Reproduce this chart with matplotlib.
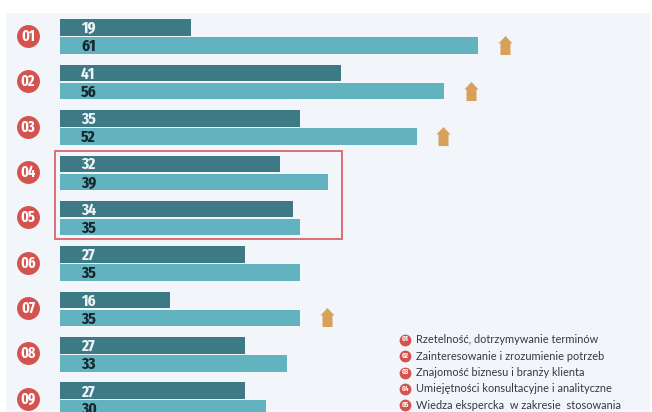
import matplotlib
matplotlib.use("Agg")
import matplotlib.pyplot as plt
from matplotlib.patches import Rectangle
from matplotlib.path import Path

# ---- data ----
labels = ["01", "02", "03", "04", "05", "06", "07", "08", "09"]
dark_vals = [19, 41, 35, 32, 34, 27, 16, 27, 27]
light_vals = [61, 56, 52, 39, 35, 35, 35, 33, 30]
arrow_groups = ["01", "02", "03", "07"]
legend_nums = ["01", "02", "03", "04", "05"]
legend_texts = [
    "Rzetelność, dotrzymywanie terminów",
    "Zainteresowanie i zrozumienie potrzeb",
    "Znajomość biznesu i branży klienta",
    "Umiejętności konsultacyjne i analityczne",
    "Wiedza ekspercka  w zakresie  stosowania",
]

# ---- style ----
W, H = 652, 412
DARK = "#3e7a86"
LIGHT = "#62b3bf"
RED = "#d5534f"
ARROW = "#d9a05c"
BG = "#f2f5f9"
NUMFONT = ["Fira Sans Extra Condensed", "DejaVu Sans"]
LEGFONT = ["Lato", "DejaVu Sans"]

X0, XS = 60.5, 6.85          # pixel of value 0, pixels per unit
Y0, YS = 36.7, 45.37         # pixel of group 0 centre, pixels per group

def px_x(p):
    return (p - X0) / XS

def px_y(p):
    return (p - Y0) / YS

fig = plt.figure(figsize=(W / 100, H / 100), dpi=100)
fig.patch.set_facecolor("white")
ax = fig.add_axes([0, 0, 1, 1])
ax.set_facecolor("none")
ax.set_xlim(px_x(0), px_x(W))
ax.set_ylim(px_y(H), px_y(0))
ax.axis("off")

# background panel
ax.add_patch(Rectangle((6 / W, 0), (650 - 6) / W, (H - 13) / H,
                       transform=fig.transFigure, facecolor=BG,
                       edgecolor="none", zorder=0))

idx = list(range(len(labels)))
off = 9.0 / YS
bh = 16.5 / YS
ax.barh([i - off for i in idx], dark_vals, height=bh, color=DARK, zorder=2)
ax.barh([i + off for i in idx], light_vals, height=bh, color=LIGHT, zorder=2)

tx = px_x(81)
dy = 1.0 / YS
for i, (d, l) in enumerate(zip(dark_vals, light_vals)):
    ax.text(tx, i - off + dy, str(d), ha="left", va="center", fontsize=12,
            fontweight="bold", family=NUMFONT, color="#eef4f5", zorder=3)
    ax.text(tx, i + off + dy, str(l), ha="left", va="center", fontsize=12,
            fontweight="bold", family=NUMFONT, color="#18262e", zorder=3)

# group circles
cx = px_x(28)
ax.plot([cx] * len(idx), [i - 0.02 for i in idx], "o", ms=16.5, color=RED,
        mec="none", zorder=3)
for i, lab in enumerate(labels):
    ax.text(cx, i - 0.01, lab, ha="center", va="center", fontsize=11,
            fontweight="bold", family=NUMFONT, color="white", zorder=4)

# up arrows
verts = [(0, 9.5), (7, 2), (5, 2), (5, -9.5), (-5, -9.5), (-5, 2), (-7, 2), (0, 9.5)]
codes = [Path.MOVETO] + [Path.LINETO] * 6 + [Path.CLOSEPOLY]
arrow_marker = Path(verts, codes)
for g in arrow_groups:
    i = labels.index(g)
    ax.plot(light_vals[i] + 26.5 / XS, i + off - 0.01, marker=arrow_marker,
            ms=13.7, color=ARROW, mec="none", ls="none", zorder=3)

# highlight box around groups 04 and 05
bx0, bx1 = px_x(55.5), px_x(341.5)
by0, by1 = px_y(150.5), px_y(238.5)
ax.add_patch(Rectangle((bx0, by0), bx1 - bx0, by1 - by0, fill=False,
                       edgecolor="#d8646a", lw=1.3, zorder=4))

# legend
ly = [339.5, 356, 372.5, 389, 405.5]
for n, t, y in zip(legend_nums, legend_texts, ly):
    ax.plot(px_x(405), px_y(y), "o", ms=8.5, color=RED, mec="none", zorder=3)
    ax.text(px_x(405), px_y(y) - 0.005, n, ha="center", va="center", fontsize=5.5,
            fontweight="bold", family=NUMFONT, color="white", zorder=4)
    ax.text(px_x(416), px_y(y), t, ha="left", va="center", fontsize=7.9,
            family=LEGFONT, color="#333a40", zorder=3)

fig.savefig("out.png", dpi=100, facecolor="white")
